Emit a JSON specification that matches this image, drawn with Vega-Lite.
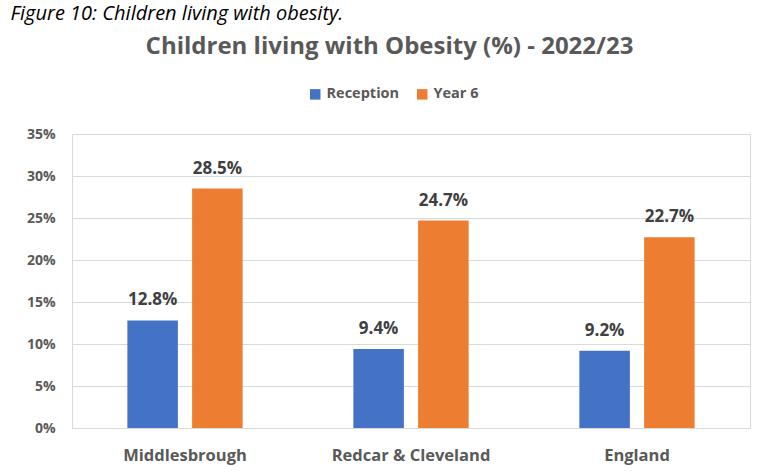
{
  "$schema": "https://vega.github.io/schema/vega-lite/v6.json",
  "width": 678,
  "height": 294,
  "autosize": {"type": "none"},
  "padding": {"left": 72, "right": 10, "top": 134, "bottom": 44},
  "background": "white",
  "data": {
    "values": [
      {"area": "Middlesbrough", "group": "Reception", "value": 0.128},
      {"area": "Middlesbrough", "group": "Year 6", "value": 0.285},
      {"area": "Redcar & Cleveland", "group": "Reception", "value": 0.094},
      {"area": "Redcar & Cleveland", "group": "Year 6", "value": 0.247},
      {"area": "England", "group": "Reception", "value": 0.092},
      {"area": "England", "group": "Year 6", "value": 0.227}
    ]
  },
  "encoding": {
    "x": {
      "field": "area",
      "type": "nominal",
      "sort": null,
      "scale": {"paddingInner": 0.49, "paddingOuter": 0.245},
      "axis": {
        "title": "Children living with Obesity (%) - 2022/23",
        "titleX": 317,
        "titleY": -382,
        "titleAlign": "center",
        "titleBaseline": "middle",
        "titleFont": "Open Sans",
        "titleFontSize": 24,
        "titleFontWeight": "bold",
        "titleColor": "#595959",
        "labelAngle": 0,
        "labelFont": "Open Sans",
        "labelFontSize": 16.5,
        "labelFontWeight": "bold",
        "labelColor": "#595959",
        "labelPadding": 19,
        "domain": true,
        "domainColor": "#d9d9d9",
        "ticks": false
      }
    },
    "xOffset": {
      "field": "group",
      "type": "nominal",
      "scale": {"paddingInner": 0.22, "paddingOuter": 0}
    },
    "y": {
      "field": "value",
      "type": "quantitative",
      "scale": {"domain": [0, 0.35]},
      "axis": {
        "title": "Figure 10: Children living with obesity.",
        "titleAngle": 0,
        "titleAlign": "left",
        "titleBaseline": "alphabetic",
        "titleX": -62,
        "titleY": -115,
        "titleFont": "Open Sans",
        "titleFontSize": 20,
        "titleFontStyle": "italic",
        "titleFontWeight": "normal",
        "titleColor": "#000000",
        "values": [0, 0.05, 0.1, 0.15, 0.2, 0.25, 0.3, 0.35],
        "format": ".0%",
        "labelFont": "Open Sans",
        "labelFontSize": 14,
        "labelFontWeight": "bold",
        "labelColor": "#595959",
        "labelPadding": 17,
        "domain": false,
        "ticks": false,
        "grid": true,
        "gridColor": "#d9d9d9",
        "gridWidth": 1
      }
    }
  },
  "layer": [
    {
      "mark": {"type": "bar"},
      "encoding": {
        "color": {
          "field": "group",
          "type": "nominal",
          "scale": {"domain": ["Reception", "Year 6"], "range": ["#4472C4", "#ED7D31"]},
          "legend": {
            "title": null,
            "orient": "none",
            "direction": "horizontal",
            "legendX": 236,
            "legendY": -47,
            "symbolType": "square",
            "symbolSize": 110,
            "symbolStrokeWidth": 0,
            "labelFont": "Open Sans",
            "labelFontSize": 14.5,
            "labelFontWeight": "bold",
            "labelColor": "#595959",
            "columnPadding": 15,
            "labelOffset": 4
          }
        }
      }
    },
    {
      "mark": {
        "type": "text",
        "baseline": "bottom",
        "dy": -11,
        "font": "Open Sans",
        "fontSize": 17,
        "fontWeight": "bold",
        "color": "#404040"
      },
      "encoding": {
        "text": {"field": "value", "type": "quantitative", "format": ".1%"}
      }
    }
  ],
  "config": {
    "view": {"stroke": "#d9d9d9", "strokeWidth": 1}
  }
}
